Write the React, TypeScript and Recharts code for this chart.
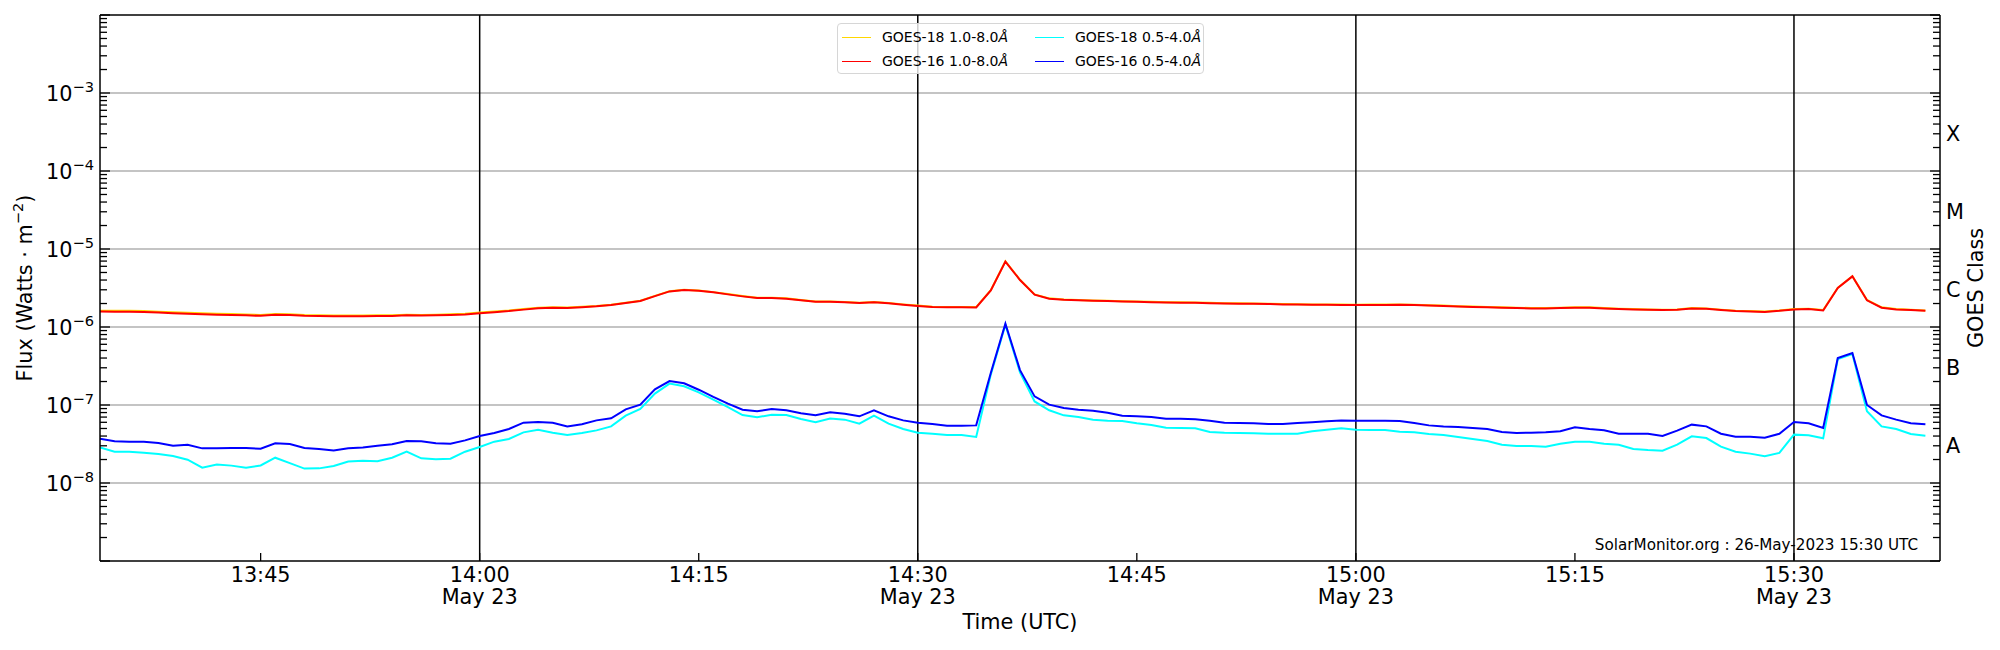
import { LineChart, Line, XAxis, YAxis, ReferenceLine, Legend } from 'recharts';

const FONT = '"DejaVu Sans", sans-serif';

// one-minute GOES XRS samples starting 13:34 UTC on 23 May 2023
const startMinute = 13 * 60 + 34;

// GOES-18 1.0-8.0 A  (W m^-2, x 1e-6)
const goes18Long = [
    1.62, 1.61, 1.61, 1.60, 1.57, 1.54, 1.52, 1.50, 1.48, 1.47,
    1.45, 1.43, 1.47, 1.46, 1.42, 1.41, 1.40, 1.40, 1.40, 1.41,
    1.41, 1.44, 1.43, 1.44, 1.46, 1.48, 1.53, 1.58, 1.63, 1.70,
    1.77, 1.79, 1.78, 1.82, 1.86, 1.93, 2.05, 2.17, 2.51, 2.88,
    3.00, 2.94, 2.80, 2.64, 2.49, 2.37, 2.37, 2.33, 2.22, 2.13,
    2.13, 2.09, 2.05, 2.09, 2.03, 1.95, 1.88, 1.82, 1.81, 1.81,
    1.80, 2.97, 6.95, 4.03, 2.62, 2.33, 2.26, 2.22, 2.19, 2.17,
    2.14, 2.12, 2.10, 2.08, 2.07, 2.06, 2.04, 2.02, 2.01, 2.00,
    1.99, 1.97, 1.96, 1.95, 1.95, 1.94, 1.93, 1.95, 1.95, 1.95,
    1.93, 1.90, 1.88, 1.85, 1.83, 1.81, 1.79, 1.77, 1.75, 1.75,
    1.77, 1.79, 1.79, 1.75, 1.72, 1.70, 1.68, 1.67, 1.68, 1.75,
    1.73, 1.67, 1.62, 1.60, 1.58, 1.63, 1.70, 1.72, 1.65, 3.18,
    4.49, 2.22, 1.79, 1.70, 1.67, 1.63,
];

// GOES-16 1.0-8.0 A  (x 1e-6)
const goes16Long = [
    1.58, 1.57, 1.57, 1.56, 1.53, 1.50, 1.48, 1.46, 1.44, 1.43,
    1.41, 1.39, 1.44, 1.43, 1.39, 1.38, 1.37, 1.37, 1.37, 1.38,
    1.38, 1.41, 1.40, 1.41, 1.43, 1.45, 1.50, 1.55, 1.60, 1.67,
    1.74, 1.76, 1.75, 1.79, 1.84, 1.91, 2.03, 2.15, 2.49, 2.86,
    2.98, 2.92, 2.78, 2.62, 2.47, 2.35, 2.35, 2.31, 2.20, 2.11,
    2.11, 2.07, 2.03, 2.07, 2.01, 1.93, 1.86, 1.80, 1.79, 1.79,
    1.78, 2.95, 6.90, 4.00, 2.60, 2.31, 2.24, 2.20, 2.17, 2.15,
    2.12, 2.10, 2.08, 2.06, 2.05, 2.04, 2.02, 2.00, 1.99, 1.98,
    1.97, 1.95, 1.94, 1.93, 1.93, 1.92, 1.91, 1.92, 1.92, 1.93,
    1.91, 1.88, 1.86, 1.83, 1.81, 1.79, 1.77, 1.75, 1.73, 1.73,
    1.75, 1.77, 1.77, 1.73, 1.70, 1.68, 1.66, 1.65, 1.66, 1.73,
    1.71, 1.65, 1.60, 1.58, 1.56, 1.61, 1.68, 1.70, 1.63, 3.16,
    4.46, 2.20, 1.77, 1.68, 1.65, 1.61,
];

// GOES-18 0.5-4.0 A  (x 1e-8)
const goes18Short = [
    2.86, 2.52, 2.52, 2.45, 2.35, 2.22, 1.99, 1.57, 1.73, 1.67,
    1.57, 1.68, 2.11, 1.80, 1.53, 1.54, 1.65, 1.88, 1.93, 1.90,
    2.11, 2.52, 2.07, 2.01, 2.05, 2.52, 2.90, 3.39, 3.67, 4.46,
    4.83, 4.42, 4.12, 4.38, 4.73, 5.32, 7.29, 8.90, 14.0, 18.8,
    17.4, 14.5, 11.7, 9.42, 7.44, 6.95, 7.52, 7.44, 6.62, 6.00,
    6.69, 6.49, 5.77, 7.29, 5.77, 4.92, 4.42, 4.28, 4.12, 4.12,
    3.89, 24.5, 107, 26.2, 11.1, 8.55, 7.37, 7.02, 6.49, 6.30,
    6.24, 5.82, 5.54, 5.12, 5.07, 5.02, 4.51, 4.42, 4.38, 4.33,
    4.28, 4.28, 4.28, 4.60, 4.83, 5.02, 4.83, 4.78, 4.78, 4.55,
    4.46, 4.24, 4.12, 3.89, 3.67, 3.45, 3.10, 2.98, 2.98, 2.92,
    3.19, 3.39, 3.39, 3.19, 3.10, 2.73, 2.65, 2.60, 3.10, 3.96,
    3.77, 2.92, 2.52, 2.38, 2.20, 2.43, 4.17, 4.09, 3.74, 38.9,
    45.1, 8.30, 5.32, 4.92, 4.24, 4.04,
];

// GOES-16 0.5-4.0 A  (x 1e-8)
const goes16Short = [
    3.70, 3.42, 3.39, 3.39, 3.26, 3.01, 3.10, 2.78, 2.78, 2.81,
    2.81, 2.75, 3.23, 3.16, 2.81, 2.73, 2.62, 2.78, 2.86, 3.01,
    3.13, 3.45, 3.42, 3.23, 3.19, 3.52, 4.01, 4.38, 4.92, 5.93,
    6.05, 5.93, 5.32, 5.65, 6.35, 6.74, 8.80, 10.1, 15.9, 20.3,
    19.0, 15.7, 12.7, 10.4, 8.70, 8.30, 8.90, 8.55, 7.82, 7.37,
    8.05, 7.74, 7.16, 8.55, 7.16, 6.35, 5.93, 5.70, 5.43, 5.43,
    5.48, 25.7, 110, 28.0, 12.9, 10.1, 9.16, 8.70, 8.45, 7.97,
    7.30, 7.16, 7.02, 6.68, 6.68, 6.55, 6.30, 5.93, 5.87, 5.82,
    5.70, 5.70, 5.87, 6.00, 6.18, 6.35, 6.30, 6.30, 6.30, 6.24,
    5.87, 5.48, 5.32, 5.22, 5.07, 4.92, 4.51, 4.38, 4.42, 4.46,
    4.60, 5.17, 4.92, 4.73, 4.28, 4.28, 4.28, 4.01, 4.69, 5.60,
    5.32, 4.28, 3.93, 3.93, 3.81, 4.28, 6.05, 5.82, 5.07, 40.1,
    46.5, 10.0, 7.37, 6.49, 5.82, 5.65,
];

const seriesInfo = [
    { key: 'g18long', name: 'GOES-18 1.0-8.0', color: '#ffd700' },
    { key: 'g16long', name: 'GOES-16 1.0-8.0', color: '#ff0000' },
    { key: 'g18short', name: 'GOES-18 0.5-4.0', color: '#00ffff' },
    { key: 'g16short', name: 'GOES-16 0.5-4.0', color: '#0000ff' },
];

// x axis (minutes of day)
const timeDomain = [13 * 60 + 34, 15 * 60 + 40];
const timeTicks = [825, 840, 855, 870, 885, 900, 915, 930];
const dateLines = [840, 870, 900, 930];
const dateLabel = 'May 23';

// y axis
const decadeExponents = [-9, -8, -7, -6, -5, -4, -3, -2];
const labelledExponents = [-8, -7, -6, -5, -4, -3];
const goesClasses = ['A', 'B', 'C', 'M', 'X'];
const goesClassValues = [3e-8, 3e-7, 3e-6, 3e-5, 3e-4];

const stamp = 'SolarMonitor.org : 26-May-2023 15:30 UTC';

const data = goes16Long.map((_, i) => ({
    t: startMinute + i,
    g18long: goes18Long[i] * 1e-6,
    g16long: goes16Long[i] * 1e-6,
    g18short: goes18Short[i] * 1e-8,
    g16short: goes16Short[i] * 1e-8,
}));

const decades = decadeExponents.map((e) => Math.pow(10, e));
const yTicks: number[] = [];
decadeExponents.slice(0, -1).forEach((e) => {
    for (let k = 1; k < 10; k++) yTicks.push(k * Math.pow(10, e));
});
yTicks.push(1e-2);

const isDecade = (v: number) => decades.some((d) => Math.abs(v / d - 1) < 1e-6);

const fmtTime = (v: number) => `${Math.floor(v / 60)}:${String(v % 60).padStart(2, '0')}`;

const LeftTick = (props: any) => {
    const { x, y, payload } = props;
    const v = payload.value;
    const major = isDecade(v);
    const exp = Math.round(Math.log10(v));
    const showLabel = major && labelledExponents.includes(exp);
    return (
        <g>
            <line x1={x} x2={x + (major ? 10 : 7)} y1={y} y2={y} stroke="#000" strokeWidth={1.3} />
            {showLabel && (
                <text x={x - 6} y={y + 7.6} textAnchor="end" fontSize={20.8} fontFamily={FONT} fill="#000">
                    10
                    <tspan dy={-8.5} fontSize={14.6}>{`\u2212${-exp}`}</tspan>
                </text>
            )}
        </g>
    );
};

const RightTick = (props: any) => {
    const { x, y, payload } = props;
    const v = payload.value;
    const major = isDecade(v);
    const idx = goesClassValues.findIndex((c) => Math.abs(v / c - 1) < 1e-6);
    return (
        <g>
            <line x1={x} x2={x - (major ? 10 : 7)} y1={y} y2={y} stroke="#000" strokeWidth={1.3} />
            {idx >= 0 && (
                <text x={x + 6} y={y + 7.6} textAnchor="start" fontSize={20.8} fontFamily={FONT} fill="#000">
                    {goesClasses[idx]}
                </text>
            )}
        </g>
    );
};

const TimeTick = (props: any) => {
    const { x, y, payload } = props;
    const v = payload.value;
    return (
        <g>
            <line x1={x} x2={x} y1={y} y2={y - 8} stroke="#000" strokeWidth={1.3} />
            <text x={x} y={y + 20.5} textAnchor="middle" fontSize={20.8} fontFamily={FONT} fill="#000">
                {fmtTime(v)}
            </text>
            {dateLines.includes(v) && (
                <text x={x} y={y + 43} textAnchor="middle" fontSize={20.8} fontFamily={FONT} fill="#000">
                    {dateLabel}
                </text>
            )}
        </g>
    );
};

const FluxLabel = () => (
    <text
        x={25}
        y={288}
        transform="rotate(-90 25 288)"
        textAnchor="middle"
        dominantBaseline="central"
        fontSize={20.8}
        fontFamily={FONT}
        fill="#000"
    >
        Flux (Watts · m
        <tspan dy={-8} fontSize={14.6}>{'\u22122'}</tspan>
        <tspan dy={8}>)</tspan>
    </text>
);

const ClassLabel = () => (
    <text
        x={1976}
        y={288}
        transform="rotate(-90 1976 288)"
        textAnchor="middle"
        dominantBaseline="central"
        fontSize={20.8}
        fontFamily={FONT}
        fill="#000"
    >
        GOES Class
    </text>
);

const TimeLabel = () => (
    <g>
        <text x={1020} y={629} textAnchor="middle" fontSize={20.8} fontFamily={FONT} fill="#000">
            Time (UTC)
        </text>
        <text x={1918} y={550} textAnchor="end" fontSize={15.2} fontFamily={FONT} fill="#000">
            {stamp}
        </text>
    </g>
);

// two columns, filled column-wise like matplotlib's ncol=2
const LegendBox = () => (
    <div
        style={{
            position: 'relative',
            width: 367,
            height: 51,
            boxSizing: 'border-box',
            border: '1.3px solid #d6d6d6',
            borderRadius: 4,
            background: 'rgba(255,255,255,0.8)',
            fontFamily: FONT,
            fontSize: 14,
            color: '#000',
        }}
    >
        {seriesInfo.map((it, i) => {
            const col = Math.floor(i / 2);
            const row = i % 2;
            const left = col === 0 ? 4 : 197;
            const top = row === 0 ? 13 : 37;
            return (
                <div key={it.key}>
                    <div
                        style={{
                            position: 'absolute',
                            left,
                            top,
                            width: 29,
                            height: 0,
                            borderTop: `1.5px solid ${it.color}`,
                        }}
                    />
                    <div
                        style={{
                            position: 'absolute',
                            left: left + 40,
                            top: top - 9,
                            whiteSpace: 'nowrap',
                            lineHeight: '18px',
                        }}
                    >
                        {it.name}
                        <span style={{ fontStyle: 'italic' }}>Å</span>
                    </div>
                </div>
            );
        })}
    </div>
);

export default function App() {
    return (
        <div style={{ position: 'absolute', left: 0, top: 0, background: '#fff' }}>
            <LineChart width={2000} height={650} data={data} margin={{ top: 15, right: 0, bottom: 0, left: 0 }}>
                <XAxis
                    dataKey="t"
                    type="number"
                    domain={timeDomain}
                    allowDataOverflow
                    ticks={timeTicks}
                    interval={0}
                    height={89}
                    tickSize={0}
                    tickMargin={0}
                    tickLine={false}
                    axisLine={{ stroke: '#000', strokeWidth: 1.5 }}
                    tick={<TimeTick />}
                    label={<TimeLabel />}
                />
                <YAxis
                    yAxisId="left"
                    type="number"
                    scale="log"
                    domain={[1e-9, 1e-2]}
                    allowDataOverflow
                    ticks={yTicks}
                    interval={0}
                    width={100}
                    tickSize={0}
                    tickMargin={0}
                    tickLine={false}
                    axisLine={{ stroke: '#000', strokeWidth: 1.5 }}
                    tick={<LeftTick />}
                    label={<FluxLabel />}
                />
                <YAxis
                    yAxisId="right"
                    orientation="right"
                    type="number"
                    scale="log"
                    domain={[1e-9, 1e-2]}
                    allowDataOverflow
                    ticks={yTicks}
                    interval={0}
                    width={60}
                    tickSize={0}
                    tickMargin={0}
                    tickLine={false}
                    axisLine={{ stroke: '#000', strokeWidth: 1.5 }}
                    tick={<RightTick />}
                    label={<ClassLabel />}
                />
                {labelledExponents.map((e) => (
                    <ReferenceLine
                        key={`g${e}`}
                        yAxisId="left"
                        y={Math.pow(10, e)}
                        stroke="#b0b0b0"
                        strokeWidth={1.3}
                    />
                ))}
                <ReferenceLine yAxisId="left" y={1e-2} stroke="#000" strokeWidth={1.5} />
                {dateLines.map((t) => (
                    <ReferenceLine key={`d${t}`} yAxisId="left" x={t} stroke="#000" strokeWidth={1.5} />
                ))}
                {seriesInfo.map((s) => (
                    <Line
                        key={s.key}
                        yAxisId="left"
                        type="linear"
                        dataKey={s.key}
                        name={s.name}
                        stroke={s.color}
                        strokeWidth={2}
                        dot={false}
                        isAnimationActive={false}
                    />
                ))}
                <Legend
                    layout="vertical"
                    align="center"
                    verticalAlign="middle"
                    wrapperStyle={{ left: 837, top: 23, width: 367, height: 51 }}
                    content={<LegendBox />}
                />
            </LineChart>
        </div>
    );
}
